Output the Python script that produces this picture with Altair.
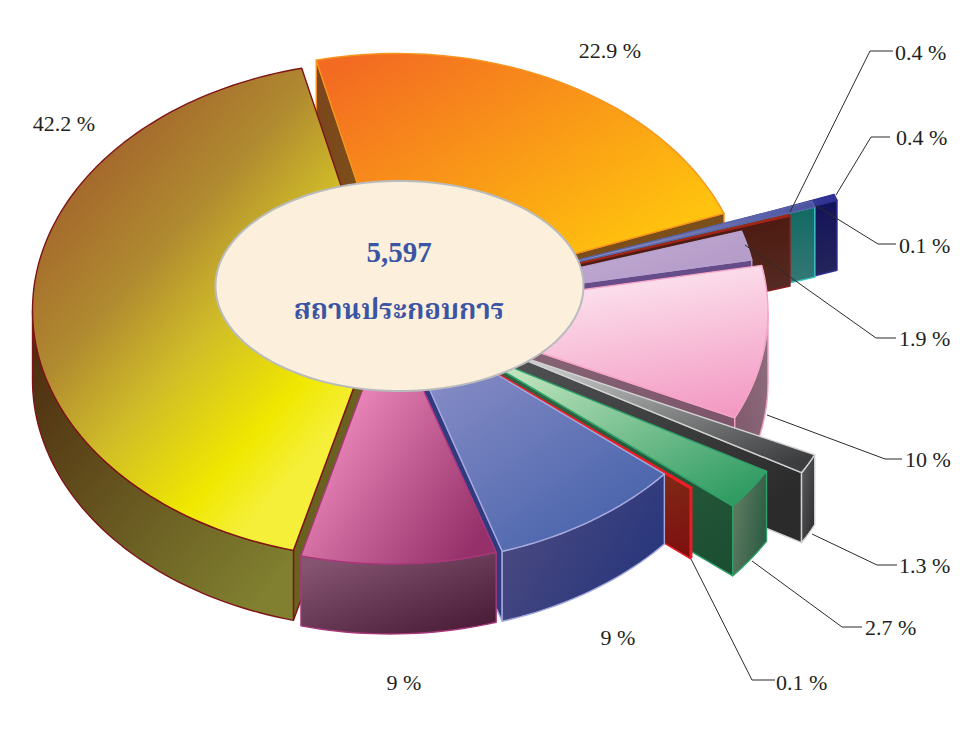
import math
import altair as alt

# ---- data ----
NAMES = ["orange", "navy", "teal", "red", "purple", "pink", "gray", "green", "thinred", "blue", "mauve", "yellow"]
SHARES = [22.9, 0.4, 0.4, 0.1, 1.9, 10, 1.3, 2.7, 0.1, 9, 9, 42.2]
OUTER_LABELS = ["22.9 %", "9 %", "9 %", "42.2 %"]
LEADER_LABELS = ["0.4 %", "0.4 %", "0.1 %", "1.9 %", "10 %", "1.3 %", "2.7 %", "0.1 %"]
TOTAL = "5,597"
CENTER_TEXT = "สถานประกอบการ"

# ---- layout (pie projection, page px minus 8) ----
OFF = 8
START = -13.34
RX, K, DEPTH = 350, 0.71, 70
DRAW_ORDER = ["orange", "yellow", "navy", "teal", "red", "purple", "pink", "gray", "green", "thinred", "blue", "mauve"]
APEX = {
    "orange": (397, 302), "navy": (507, 283), "teal": (482, 284), "red": (456.5, 291.4),
    "purple": (408, 306.5), "pink": (418, 312), "gray": (498, 349), "green": (463, 347.5),
    "thinred": (422, 329), "blue": (396, 314.5), "mauve": (390, 315.5), "yellow": (382.5, 310),
}
OUTER_POS = [(610, 51), (618, 638), (404, 683), (64, 124)]
LEADER_POS = [(895, 53), (896, 138), (899, 246), (899, 339), (905, 460), (899, 566), (865, 628), (776, 683)]
LEADERS = [
    [(790, 212), (870, 51), (893, 51)],
    [(836, 195), (871, 137), (890, 137)],
    [(815, 205), (878, 244), (896, 244)],
    [(745, 245), (876, 338), (896, 338)],
    [(767, 415), (885, 459), (902, 459)],
    [(812, 534), (877, 565), (897, 565)],
    [(752, 561), (842, 627), (862, 627)],
    [(691, 559), (752, 680), (775, 680)],
]


def grad(stops, x1=0.0, y1=0.0, x2=1.0, y2=1.0):
    n = len(stops)
    gs = []
    for i, s in enumerate(stops):
        if isinstance(s, tuple):
            gs.append(alt.GradientStop(color=s[1], offset=s[0]))
        else:
            gs.append(alt.GradientStop(color=s, offset=i / (n - 1)))
    return alt.LinearGradient(gradient="linear", stops=gs, x1=x1, y1=y1, x2=x2, y2=y2)


STYLE = {
    "orange": dict(top=grad(["#f36a22", "#ffc20e"], 0.05, 0.05, 0.78, 0.78),
                   radial=grad(["#7c451c", "#7a5a18"], 0, 0, 1, 1), outer="#7a5a18", stroke="#f7941d"),
    "navy": dict(top=grad(["#9a9ac8", "#2e3192"], 0, 0, 1, 0),
                 radial=grad(["#14145a", "#33365a"], 0.5, 0.2, 0.8, 1), outer="#14145a", stroke="#2e3192"),
    "teal": dict(top=grad(["#b4b4d4", "#4a52a0"], 0, 0, 1, 0), top_stroke="#5a62a8",
                 radial=grad(["#146a64", "#4f8484"], 0.5, 0.2, 0.8, 1), outer="#146a64", stroke="#3cc8c8"),
    "red": dict(top=grad(["#d08070", "#a8321c"], 0, 0, 1, 0), top_stroke="#a02418",
                radial=grad(["#4e1c12", "#5b3a34"], 0.6, 0.2, 0.9, 1), outer="#4e1c12", stroke="#8c1c1c"),
    "purple": dict(top=grad(["#c8b8dc", "#b398c6"], 0, 0, 1, 0.6),
                   radial="#674c8a", outer="#674c8a", stroke="#b7a2cf"),
    "pink": dict(top=grad(["#fdeaf2", "#f398c2"], 0.45, 0.0, 0.85, 1.0),
                 radial=grad(["#8a6a7a", "#7a5068"], 0, 0, 1, 1),
                 outer=grad(["#7e5468", "#8e7080"], 0, 1, 1, 0), stroke="#f5a3c7"),
    "gray": dict(top=grad(["#c8caca", "#3c3d3e"], 0.2, 0.1, 0.95, 0.9),
                 radial=grad(["#4e4f50", "#2b2b2c"], 0.2, 0, 0.9, 0.8),
                 outer=grad(["#5c5d60", "#2a2a2c"], 0, 0, 1, 1), stroke="#d2d2d2"),
    "green": dict(top=grad(["#d0ecc8", "#2f9c62"], 0.1, 0.05, 0.95, 0.9),
                  radial=grad(["#30603f", "#1c4e32"], 0.4, 0.2, 0.9, 1),
                  outer=grad(["#607c62", "#2a5a42"], 0, 0.3, 1, 0.7), stroke="#2fa06a"),
    "thinred": dict(top="#e03020",
                    radial=grad(["#7e3418", "#7e1010"], 0.8, 0.5, 0.9, 1), outer="#7e1010", stroke="#ed1c24"),
    "blue": dict(top=grad(["#9696cc", "#4c66ad"], 0.05, 0.02, 0.75, 0.9),
                 radial="#2f3a80",
                 outer=grad(["#4c4a80", "#25357c"], 0, 0.3, 0.95, 0.8), stroke="#a4a8dc"),
    "mauve": dict(top=grad(["#f08cbe", "#96306a"], 0.25, 0.25, 0.95, 0.85),
                  radial="#5a2a48",
                  outer=grad(["#845470", "#481a36"], 0.1, 0.1, 0.9, 1), stroke="#a8387a"),
    "yellow": dict(top=grad([(0, "#a4682c"), (0.3, "#b08a30"), (0.555, "#d0bc28"), (0.845, "#f0e800"), (1, "#f5ef3a")],
                            0.0, 0.333, 0.543, 1.007),
                   radial="#6a6020",
                   outer=grad(["#4e2e10", "#808030"], 0.05, 0.1, 0.85, 0.95), stroke="#7e1416"),
}

PROJ = alt.Projection(type="identity", scale=1, translate=[0, 0])


def shape(coords, closed=True, **mark):
    if closed:
        ring = [[x - OFF, y - OFF] for x, y in coords]
        ring.append(ring[0])
        geom = {"type": "Polygon", "coordinates": [ring]}
    else:
        geom = {"type": "LineString", "coordinates": [[x - OFF, y - OFF] for x, y in coords]}
    feat = {"type": "Feature", "properties": {}, "geometry": geom}
    return alt.Chart(alt.Data(values=[feat])).mark_geoshape(**mark).project(**PROJ.to_dict())


def pt(apex, a, r=RX, dz=0):
    t = math.radians(a)
    return (apex[0] + r * math.sin(t), apex[1] - K * r * math.cos(t) + dz)


def arc_points(apex, a0, a1, dz=0):
    n = max(2, int(abs(a1 - a0) / 1.5) + 1)
    return [pt(apex, a0 + (a1 - a0) * i / n, dz=dz) for i in range(n + 1)]


spans = {}
angle = START
for name, share in zip(NAMES, SHARES):
    spans[name] = (angle, angle + share * 3.6)
    angle += share * 3.6

layers = []
for name in DRAW_ORDER:
    a0, a1 = spans[name]
    ap, st = APEX[name], STYLE[name]
    common = dict(stroke=st["stroke"], strokeWidth=1.4, strokeJoin="round")
    apb = (ap[0], ap[1] + DEPTH)
    # radial faces facing the viewer
    if math.sin(math.radians(a0)) < 0:
        layers.append(shape([ap, pt(ap, a0), pt(ap, a0, dz=DEPTH), apb], fill=st["radial"], **common))
    if math.sin(math.radians(a1)) > 0:
        layers.append(shape([ap, pt(ap, a1), pt(ap, a1, dz=DEPTH), apb], fill=st["radial"], **common))
    # outer wall, front half only
    lo, hi = max(a0, 90), min(a1, 270)
    if hi > lo:
        upper = arc_points(ap, lo, hi)
        lower = arc_points(ap, hi, lo, dz=DEPTH)
        layers.append(shape(upper + lower, fill=st["outer"], **common))
    # top face
    top_common = dict(common, stroke=st.get("top_stroke", st["stroke"]))
    layers.append(shape([ap] + arc_points(ap, a0, a1), fill=st["top"], **top_common))

# centre ellipse
ell = [(399.5 + 184 * math.cos(math.radians(i)), 286 + 105 * math.sin(math.radians(i))) for i in range(0, 360, 2)]
layers.append(shape(ell, fill="#fcf0dc", stroke="#b9bbbd", strokeWidth=2))

# leader lines
for ln in LEADERS:
    layers.append(shape(ln, closed=False, fill="transparent", filled=False, stroke="#2b2b2b", strokeWidth=1))


def text_layer(rows, **mark):
    return (
        alt.Chart(alt.Data(values=rows))
        .mark_text(**mark)
        .encode(longitude="lon:Q", latitude="lat:Q", text="t:N")
        .project(**PROJ.to_dict())
    )


SERIF = "Liberation Serif"
rows = [{"lon": x - OFF, "lat": y - OFF, "t": t} for t, (x, y) in zip(OUTER_LABELS, OUTER_POS)]
layers.append(text_layer(rows, font=SERIF, fontSize=22, color="#231f20", align="center", baseline="middle"))
rows = [{"lon": x - OFF, "lat": y - OFF, "t": t} for t, (x, y) in zip(LEADER_LABELS, LEADER_POS)]
layers.append(text_layer(rows, font=SERIF, fontSize=22, color="#231f20", align="left", baseline="middle"))
layers.append(text_layer([{"lon": 399 - OFF, "lat": 253 - OFF, "t": TOTAL}], font=SERIF, fontSize=29, fontWeight="bold",
                         color="#3b55a5", align="center", baseline="middle"))
layers.append(text_layer([{"lon": 399 - OFF, "lat": 311 - OFF, "t": CENTER_TEXT}],
                         font="Noto Serif Thai, Noto Sans Thai, Liberation Serif, Noto Sans", fontSize=27.5, fontWeight="bold",
                         color="#3b55a5", align="center", baseline="middle"))

chart = (
    alt.layer(*layers)
    .properties(width=944, height=715, padding=0, background="white")
    .configure_view(stroke=None)
)
chart.save("out.html", embed_options={"renderer": "svg", "actions": False})
